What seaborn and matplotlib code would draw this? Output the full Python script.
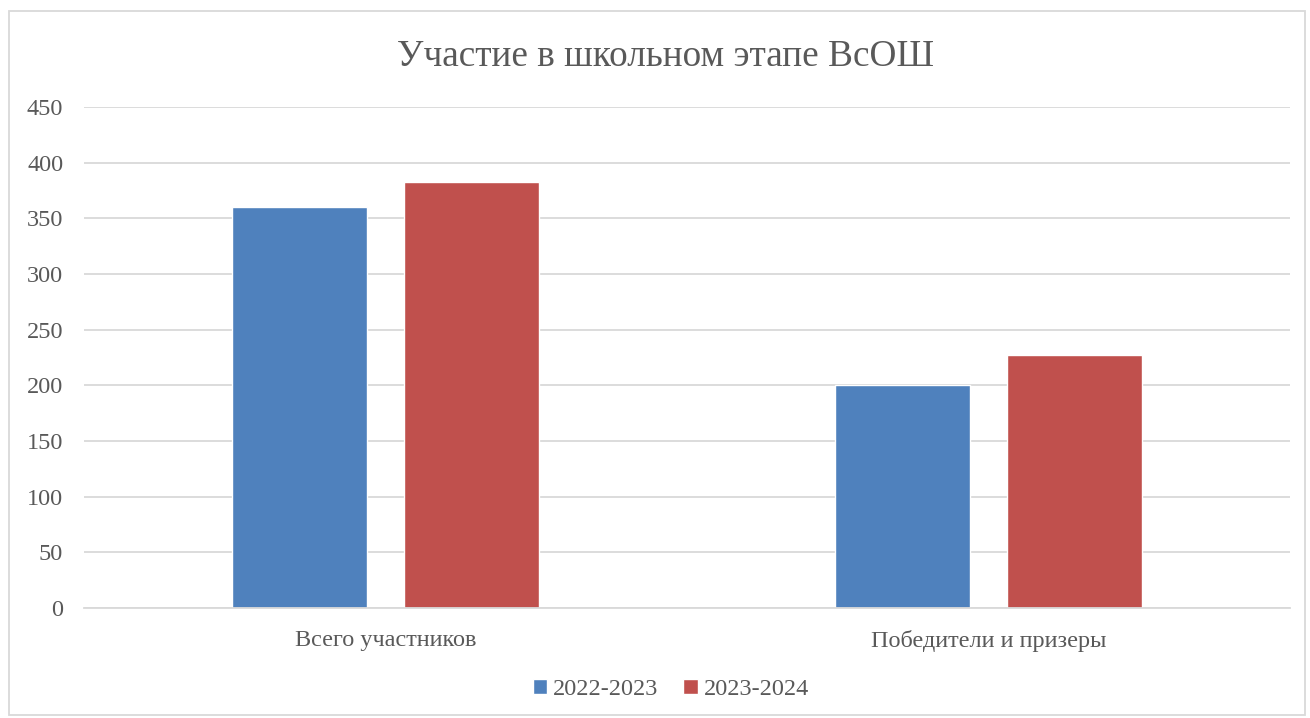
import pandas as pd
import matplotlib
matplotlib.use('Agg')
import matplotlib.pyplot as plt
import seaborn as sns

# chart data
categories = ['Всего участников', 'Победители и призеры']
years = ['2022-2023', '2023-2024']
values_2022 = [360, 200]
values_2023 = [383, 227]
yticks = [0, 50, 100, 150, 200, 250, 300, 350, 400, 450]

colors = ['#4F81BD', '#C0504D']
text_color = '#595959'
grid_color = '#D9D9D9'

df = pd.DataFrame({
    'category': categories * 2,
    'year': [years[0]] * 2 + [years[1]] * 2,
    'value': values_2022 + values_2023,
})

sns.set_style('white')
plt.rcParams['font.family'] = ['Liberation Serif', 'DejaVu Serif']

fig = plt.figure(figsize=(13.1, 7.18), dpi=100)
ax = fig.add_axes([0.0641, 0.1532, 0.9206, 0.6978])

sns.barplot(data=df, x='category', y='value', hue='year', order=categories,
            hue_order=years, palette=colors, width=0.57, gap=0.214,
            saturation=1, ax=ax, legend=True)

ax.set_ylim(0, 450)
ax.set_xlim(-0.5, 1.5)
ax.set_yticks(yticks)
ax.yaxis.grid(True, color=grid_color, linewidth=1.3)
ax.set_axisbelow(True)
ax.set_xlabel('')
ax.set_ylabel('')
for s in ['top', 'right', 'left']:
    ax.spines[s].set_visible(False)
ax.spines['bottom'].set_color(grid_color)
ax.spines['bottom'].set_linewidth(1.3)
ax.tick_params(axis='both', length=0, labelsize=17.5, labelcolor=text_color)
ax.tick_params(axis='y', pad=15)
ax.tick_params(axis='x', pad=16)

fig.text(0.508, 0.921, 'Участие в школьном этапе ВсОШ', ha='center', va='center',
         fontsize=26.8, color=text_color)

handles, labels = ax.get_legend_handles_labels()
ax.legend_.remove()
fig.legend(handles, labels, loc='center', bbox_to_anchor=(0.512, 0.04), ncol=2,
           frameon=False, fontsize=17.5, labelcolor=text_color,
           handlelength=0.6, handleheight=0.6, handletextpad=0.25, columnspacing=1.0)

# outer chart border
fig.patches.append(plt.Rectangle((0.007, 0.004), 0.989, 0.98, transform=fig.transFigure,
                                 fill=False, edgecolor=grid_color, linewidth=1.3))

fig.savefig('out.png', dpi=100)
